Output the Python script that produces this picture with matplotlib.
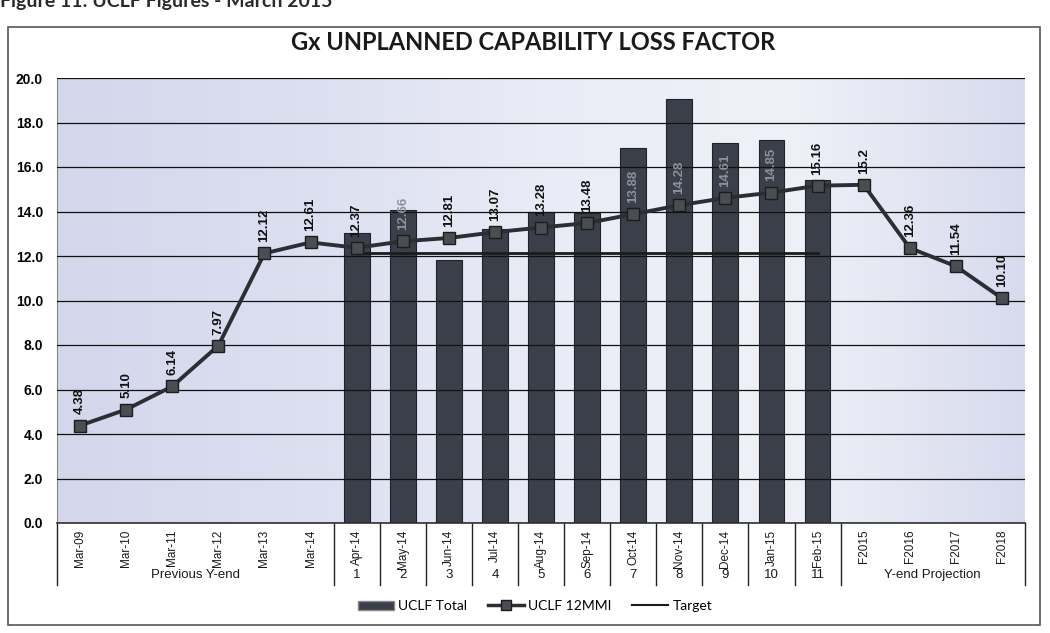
import numpy as np
import matplotlib
matplotlib.use("Agg")
import matplotlib.pyplot as plt
from matplotlib.colors import LinearSegmentedColormap
from matplotlib.lines import Line2D
from matplotlib.patches import Patch, Rectangle
from matplotlib.transforms import blended_transform_factory

# ---- data ----
categories = ["Mar-09", "Mar-10", "Mar-11", "Mar-12", "Mar-13", "Mar-14",
              "Apr-14", "May-14", "Jun-14", "Jul-14", "Aug-14", "Sep-14",
              "Oct-14", "Nov-14", "Dec-14", "Jan-15", "Feb-15",
              "F2015", "F2016", "F2017", "F2018"]
nan = np.nan
uclf_total = [nan] * 6 + [13.05, 14.05, 11.8, 13.2, 14.0, 13.95,
                          16.85, 19.05, 17.1, 17.2, 15.4] + [nan] * 4
uclf_12mmi = [4.38, 5.10, 6.14, 7.97, 12.12, 12.61, 12.37, 12.66, 12.81, 13.07,
              13.28, 13.48, 13.88, 14.28, 14.61, 14.85, 15.16, 15.2, 12.36,
              11.54, 10.10]
mmi_labels = ["4.38", "5.10", "6.14", "7.97", "12.12", "12.61", "12.37", "12.66",
              "12.81", "13.07", "13.28", "13.48", "13.88", "14.28", "14.61",
              "14.85", "15.16", "15.2", "12.36", "11.54", "10.10"]
target = [nan] * 6 + [12.15] * 11 + [nan] * 4
month_numbers = [str(i) for i in range(1, 12)]
group_labels = ["Previous Y-end", "Y-end Projection"]

x = np.arange(len(categories))

# ---- figure ----
fig = plt.figure(figsize=(10.5, 6.33), dpi=100)
fig.patch.set_facecolor("white")

# caption cut off at the top of the scan
fig.text(0.0, 1 - 7 / 633, "Figure 11: UCLF Figures - March 2015",
         fontfamily="Lato", fontweight="bold", fontsize=14, color="#2a2a2a",
         va="baseline", ha="left")

# outer chart frame
fig.add_artist(Rectangle((8 / 1050, 1 - 625 / 633), 1032 / 1050, 598 / 633,
                         transform=fig.transFigure, fill=False,
                         edgecolor="#555555", lw=1.2))

fig.text(533 / 1050, 1 - 42 / 633, "Gx UNPLANNED CAPABILITY LOSS FACTOR",
         fontfamily="Lato", fontweight="bold", fontsize=17, color="#1a1a1a",
         ha="center", va="center")

ax = fig.add_axes([57 / 1050, 1 - 523 / 633, (1025 - 57) / 1050, 445 / 633])

# soft lavender background
cmap = LinearSegmentedColormap.from_list(
    "bg", ["#d4d7ec", "#dcdff0", "#e9ebf6", "#f0f1f8", "#d8dbee"])
grad = np.linspace(0, 1, 256).reshape(1, -1)
ax.imshow(grad, extent=[0, 1, 0, 1], transform=ax.transAxes, aspect="auto",
          cmap=cmap, zorder=0)

ax.bar(x, uclf_total, width=0.56, color="#3b3f49", edgecolor="#1f2228",
       lw=0.8, zorder=2)
ax.plot(x, target, color="#1c1c1c", lw=2.0, zorder=3)
ax.plot(x, uclf_12mmi, color="#2b2e33", lw=2.8, marker="s", markersize=9,
        markerfacecolor="#4a4d52", markeredgecolor="#1c1c1c", zorder=4)

for i, (v, s) in enumerate(zip(uclf_12mmi, mmi_labels)):
    on_bar = not np.isnan(uclf_total[i]) and uclf_total[i] > v + 0.8
    ax.annotate(s, (i, v), xytext=(0, 8), textcoords="offset points",
                rotation=90, ha="center", va="bottom", fontsize=9.5,
                fontfamily="Liberation Sans", fontweight="bold",
                color="#8e919a" if on_bar else "#111111", zorder=5)

ax.set_xlim(-0.5, len(categories) - 0.5)
ax.set_ylim(0, 20)
ax.set_yticks(np.arange(0, 20.1, 2))
ax.set_yticklabels([f"{t:.1f}" for t in np.arange(0, 20.1, 2)],
                   fontfamily="Liberation Sans", fontweight="bold", fontsize=10)
ax.tick_params(axis="y", length=0, pad=10)
ax.set_xticks([])
ax.grid(axis="y", color="#111111", lw=0.9, zorder=1)
ax.set_axisbelow(False)
for side in ["top", "right"]:
    ax.spines[side].set_visible(False)
ax.spines["left"].set_color("#888888")
ax.spines["bottom"].set_color("#333333")
ax.spines["bottom"].set_linewidth(1.2)

# category axis with two levels
tr = blended_transform_factory(ax.transData, ax.transAxes)
for i, c in enumerate(categories):
    ax.text(i, -0.015, c, transform=tr, rotation=90, ha="center", va="top",
            fontsize=8.5, fontfamily="Liberation Sans", color="#1a1a1a")
for k, n in enumerate(month_numbers):
    ax.text(6 + k, -0.117, n, transform=tr, ha="center", va="center",
            fontsize=9.5, fontfamily="Liberation Sans", color="#1a1a1a")
ax.text(2.5, -0.117, group_labels[0], transform=tr, ha="center", va="center",
        fontsize=9.5, fontfamily="Liberation Sans", color="#1a1a1a")
ax.text(18.5, -0.117, group_labels[1], transform=tr, ha="center", va="center",
        fontsize=9.5, fontfamily="Liberation Sans", color="#1a1a1a")
for sx in [-0.5] + list(np.arange(5.5, 17.0, 1.0)) + [20.5]:
    ax.plot([sx, sx], [0, -0.14], transform=tr, color="#222222", lw=1.0,
            clip_on=False)

handles = [
    Patch(facecolor="#3b3f49", edgecolor="#888888", label="UCLF Total"),
    Line2D([], [], color="#2b2e33", lw=2.5, marker="s", markersize=7,
           markerfacecolor="#4a4d52", markeredgecolor="#1c1c1c",
           label="UCLF 12MMI"),
    Line2D([], [], color="#1c1c1c", lw=1.5, label="Target"),
]
fig.legend(handles=handles, loc="center", ncol=3, frameon=False,
           bbox_to_anchor=(535 / 1050, 1 - 606 / 633),
           prop={"family": "Lato", "size": 10}, handlelength=2.6,
           handleheight=0.6, columnspacing=1.5, handletextpad=0.3)

fig.savefig("out.png", dpi=100)
